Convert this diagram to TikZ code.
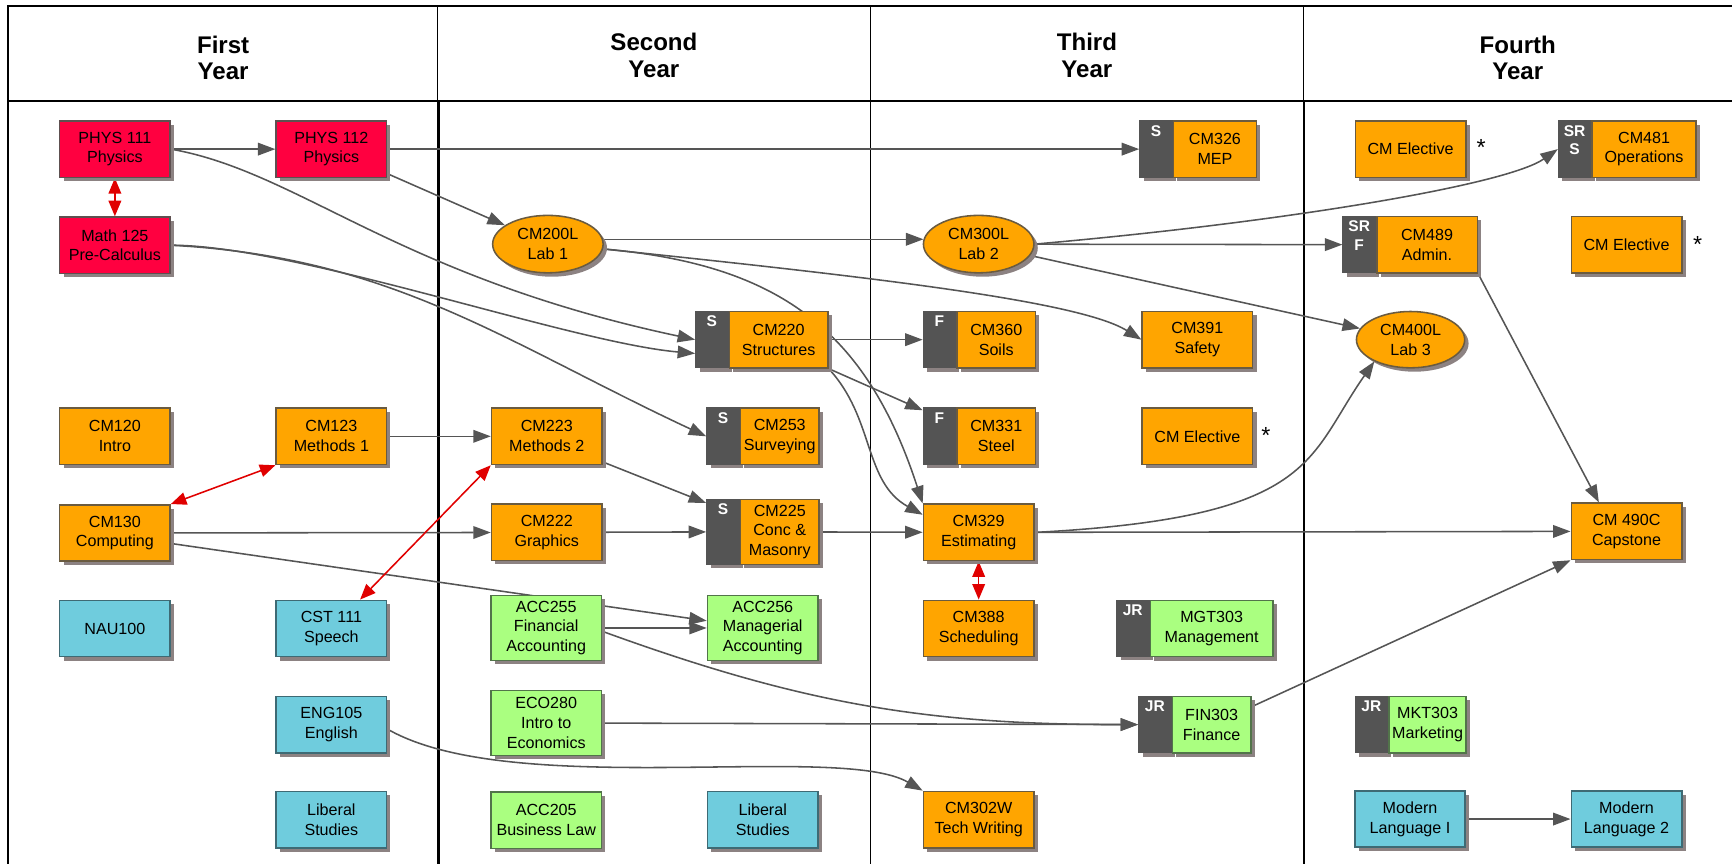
\documentclass[tikz,border=0pt]{standalone}
\usepackage{fontspec}
\setmainfont{Liberation Sans}
\usetikzlibrary{shapes.geometric,arrows.meta,shadows,calc}
\pgfdeclarelayer{background}
\pgfsetlayers{background,main}

\definecolor{physred}{HTML}{FF0040}
\definecolor{physline}{HTML}{5E5050}
\definecolor{cmorange}{HTML}{FFA500}
\definecolor{cmline}{HTML}{6A5B40}
\definecolor{libcyan}{HTML}{6FCCDD}
\definecolor{libline}{HTML}{3E6A74}
\definecolor{busgreen}{HTML}{AAFF80}
\definecolor{busline}{HTML}{52744A}
\definecolor{tabgray}{HTML}{545454}
\definecolor{arrowgray}{HTML}{555555}
\definecolor{coreqred}{HTML}{E00000}
\definecolor{shadowgray}{HTML}{8C8282}

\begin{document}
\begin{tikzpicture}[x=0.2cm,y=0.2cm]
\tikzstyle{every node}+=[inner sep=0pt]
\tikzstyle{course}=[draw, line width=0.8pt, minimum width=2cm, minimum height=1.02cm, align=center, font=\fontsize{8.3}{10.2}\selectfont, drop shadow={shadow xshift=2pt,shadow yshift=-2pt,fill=shadowgray,opacity=1}]
\tikzstyle{physbox}=[course, fill=physred, draw=physline]
\tikzstyle{cmbox}=[course, fill=cmorange, draw=cmline]
\tikzstyle{libbox}=[course, fill=libcyan, draw=libline]
\tikzstyle{busbox}=[course, fill=busgreen, draw=busline]
\tikzstyle{labbox}=[cmbox, ellipse, minimum height=1.04cm]
\tikzstyle{tabbar}=[fill=tabgray, draw=tabgray, line width=0.8pt, text=white, minimum width=0.58cm, font=\bfseries\fontsize{8}{9.5}\selectfont, text height=7.7pt, text depth=21.2pt, drop shadow={shadow xshift=2pt,shadow yshift=-2pt,fill=shadowgray,opacity=1}]
\tikzstyle{yearhead}=[align=center, font=\bfseries\fontsize{12.4}{13.8}\selectfont]
\tikzstyle{electmark}=[font=\fontsize{12}{14}\selectfont]
\tikzstyle{prereq}=[draw=arrowgray, line width=0.8pt, -{Triangle[length=9pt,width=6.5pt]}]
\tikzstyle{coreq}=[draw=coreqred, line width=0.8pt, {Triangle[length=8pt,width=6.5pt]}-{Triangle[length=8pt,width=6.5pt]}]
\useasboundingbox (0,0) rectangle (156.8,-78.2);
\node[yearhead] (firstyear) at (20.2,-5.25) {First\\Year};
\node[yearhead] (secondyear) at (59.2,-5.05) {Second\\Year};
\node[yearhead] (thirdyear) at (98.4,-5.05) {Third\\Year};
\node[yearhead] (fourthyear) at (137.4,-5.25) {Fourth\\Year};
\node[physbox] (phys111) at (10.4,-13.5) {PHYS 111\\Physics};
\node[physbox] (phys112) at (30.0,-13.5) {PHYS 112\\Physics};
\node[physbox] (math125) at (10.4,-22.2) {Math 125\\Pre-Calculus};
\node[cmbox] (cm120) at (10.4,-39.5) {CM120\\Intro};
\node[cmbox] (cm123) at (30.0,-39.5) {CM123\\Methods 1};
\node[cmbox] (cm130) at (10.4,-48.25) {CM130\\Computing};
\node[libbox] (nau100) at (10.4,-56.9) {NAU100};
\node[libbox] (cst111) at (30.0,-56.9) {CST 111\\Speech};
\node[libbox] (eng105) at (30.0,-65.6) {ENG105\\English};
\node[libbox] (libstudy1) at (30.0,-74.2) {Liberal\\Studies};
\node[labbox] (cm200l) at (49.6,-22.1) {CM200L\\Lab 1};
\node[tabbar] (cm220tab) at (64.45,-30.75) {S};
\node[cmbox, minimum width=1.78cm, anchor=west] (cm220) at (cm220tab.east) {CM220\\Structures};
\node[cmbox] (cm223) at (49.5,-39.5) {CM223\\Methods 2};
\node[tabbar] (cm253tab) at (65.45,-39.5) {S};
\node[cmbox, minimum width=1.42cm, anchor=west] (cm253) at (cm253tab.east) {CM253\\Surveying};
\node[cmbox] (cm222) at (49.5,-48.2) {CM222\\Graphics};
\node[tabbar, text depth=25.8pt] (cm225tab) at (65.45,-48.15) {S};
\node[cmbox, minimum width=1.42cm, minimum height=1.18cm, anchor=west] (cm225) at (cm225tab.east) {CM225\\Conc \&\\Masonry};
\node[busbox, minimum height=1.18cm] (acc255) at (49.45,-56.85) {ACC255\\Financial\\Accounting};
\node[busbox, minimum height=1.18cm] (acc256) at (69.05,-56.85) {ACC256\\Managerial\\Accounting};
\node[busbox, minimum height=1.18cm] (eco280) at (49.45,-65.45) {ECO280\\Intro to\\Economics};
\node[busbox] (acc205) at (49.45,-74.25) {ACC205\\Business Law};
\node[libbox] (libstudy2) at (69.05,-74.2) {Liberal\\Studies};
\node[tabbar] (cm326tab) at (104.65,-13.5) {S};
\node[cmbox, minimum width=1.5cm, anchor=west] (cm326) at (cm326tab.east) {CM326\\MEP};
\node[labbox] (cm300l) at (88.6,-22.1) {CM300L\\Lab 2};
\node[tabbar] (cm360tab) at (85.05,-30.75) {F};
\node[cmbox, minimum width=1.42cm, anchor=west] (cm360) at (cm360tab.east) {CM360\\Soils};
\node[cmbox] (cm391) at (108.4,-30.75) {CM391\\Safety};
\node[tabbar] (cm331tab) at (85.05,-39.5) {F};
\node[cmbox, minimum width=1.42cm, anchor=west] (cm331) at (cm331tab.east) {CM331\\Steel};
\node[cmbox] (cmelect3) at (108.4,-39.5) {CM Elective};
\node[electmark] (ast3) at (114.6,-39.45) {*};
\node[cmbox] (cm329) at (88.6,-48.2) {CM329\\Estimating};
\node[cmbox] (cm388) at (88.6,-56.9) {CM388\\Scheduling};
\node[tabbar] (mgt303tab) at (102.55,-56.9) {JR};
\node[busbox, minimum width=2.22cm, anchor=west] (mgt303) at (mgt303tab.east) {MGT303\\Management};
\node[tabbar] (fin303tab) at (104.55,-65.6) {JR};
\node[busbox, minimum width=1.42cm, anchor=west] (fin303) at (fin303tab.east) {FIN303\\Finance};
\node[cmbox] (cm302w) at (88.6,-74.2) {CM302W\\Tech Writing};
\node[cmbox] (cmelect4a) at (127.7,-13.5) {CM Elective};
\node[electmark] (ast4a) at (134.1,-13.35) {*};
\node[tabbar] (cm481tab) at (142.55,-13.5) {\begin{tabular}[t]{@{}c@{}}SR\\S\end{tabular}};
\node[cmbox, minimum width=1.88cm, anchor=west] (cm481) at (cm481tab.east) {CM481\\Operations};
\node[tabbar] (cm489tab) at (123.05,-22.15) {\begin{tabular}[t]{@{}c@{}}SR\\F\end{tabular}};
\node[cmbox, minimum width=1.82cm, anchor=west] (cm489) at (cm489tab.east) {CM489\\Admin.};
\node[cmbox] (cmelect4b) at (147.25,-22.15) {CM Elective};
\node[electmark] (ast4b) at (153.7,-22.1) {*};
\node[labbox, minimum width=1.96cm, minimum height=1.02cm] (cm400l) at (127.7,-30.75) {CM400L\\Lab 3};
\node[cmbox] (cm490c) at (147.25,-48.1) {CM 490C\\Capstone};
\node[tabbar] (mkt303tab) at (124.15,-65.6) {JR};
\node[busbox, minimum width=1.4cm, anchor=west] (mkt303) at (mkt303tab.east) {MKT303\\Marketing};
\node[libbox] (modlang1) at (127.65,-74.15) {Modern\\Language I};
\node[libbox] (modlang2) at (147.25,-74.15) {Modern\\Language 2};
\begin{pgfonlayer}{background}
\draw [black, line width=1pt] (0.69,-78.2) -- (0.69,-0.51) -- (156.8,-0.51);
\draw [black, line width=1pt] (0.69,-9.14) -- (156.8,-9.14);
\draw [black, line width=0.6pt] (39.63,-0.51) -- (39.63,-9.14);
\draw [black, line width=0.6pt] (78.78,-0.51) -- (78.78,-78.2);
\draw [black, line width=0.6pt] (118.0,-0.51) -- (118.0,-9.14);
\draw [black, line width=1.2pt] (39.7,-9.14) -- (39.7,-78.2);
\draw [black, line width=1.2pt] (118.05,-9.14) -- (118.05,-78.2);
\draw [prereq] (phys111) -- (phys112);
\draw [prereq] (phys112) -- (cm326tab);
\draw [prereq] (phys112) -- (cm200l);
\draw [prereq] (phys111.east) to[out=-10,in=168,out looseness=0.6,in looseness=1.4] (cm220tab.west);
\draw [prereq] (math125.east) to[out=0,in=175,looseness=0.6] ($(cm220tab.west)+(0,-1.25)$);
\draw [prereq] (math125.east) to[out=-3,in=155] (cm253tab.west);
\draw [prereq] (cm200l.5) -- (cm300l.175);
\draw [prereq] (cm200l.-5) to[out=-6,in=148,out looseness=1.2,in looseness=0.35] (cm391.west);
\draw [prereq] (cm200l.-5) to[out=-5,in=108,out looseness=1.1,in looseness=1.15] (cm329.north west);
\draw [prereq] (cm220) -- (cm360tab);
\draw [prereq] (cm220.south east) -- ($(cm331tab.north west)+(0,-0.25)$);
\draw [prereq] (cm220.south east) to[out=-47,in=151] ($(cm329.west)+(0,1.6)$);
\draw [prereq] ($(cm223.south east)+(0,0.3)$) -- ($(cm225tab.north west)+(0,-0.4)$);
\draw [prereq] (cm222) -- (cm225tab);
\draw [prereq] (cm225) -- (cm329);
\draw [prereq] (cm123) -- (cm223);
\draw [prereq] (cm130) -- (cm222);
\draw [prereq] ($(cm130.east)+(0,-0.95)$) -- ($(acc256.west)+(0,0.65)$);
\draw [prereq] (acc255) -- (acc256);
\draw [prereq] ($(acc255.east)+(0,-0.3)$) to[out=-20,in=180] (fin303tab.west);
\draw [prereq] (eco280) -- (fin303tab);
\draw [prereq] ($(eng105.east)+(0,-0.4)$) to[out=-30,in=150,out looseness=0.68,in looseness=0.46] (cm302w.north west);
\draw [prereq] (cm300l.east) to[out=5,in=-145,out looseness=1.2,in looseness=0.3] (cm481tab.west);
\draw [prereq] (cm300l) -- (cm489tab);
\draw [prereq] (cm300l) -- (cm400l);
\draw [prereq] (cm489.south east) -- ($(cm490c.north)+(-2.5,0)$);
\draw [prereq] (cm329.east) to[out=3,in=-125,out looseness=1.9,in looseness=0.8] (cm400l.-149);
\draw [prereq] (cm329) -- (cm490c);
\draw [prereq] ($(fin303.north east)+(0,-1)$) -- (cm490c.south west);
\draw [prereq] (modlang1) -- (modlang2);
\draw [coreq] (phys111) -- (math125);
\draw [coreq] (cm130.north east) -- (cm123.south west);
\draw [coreq] ($(cst111.north)+(2.6,0)$) -- (cm223.south west);
\draw [coreq] (cm329) -- (cm388);
\end{pgfonlayer}
\end{tikzpicture}
\end{document}
